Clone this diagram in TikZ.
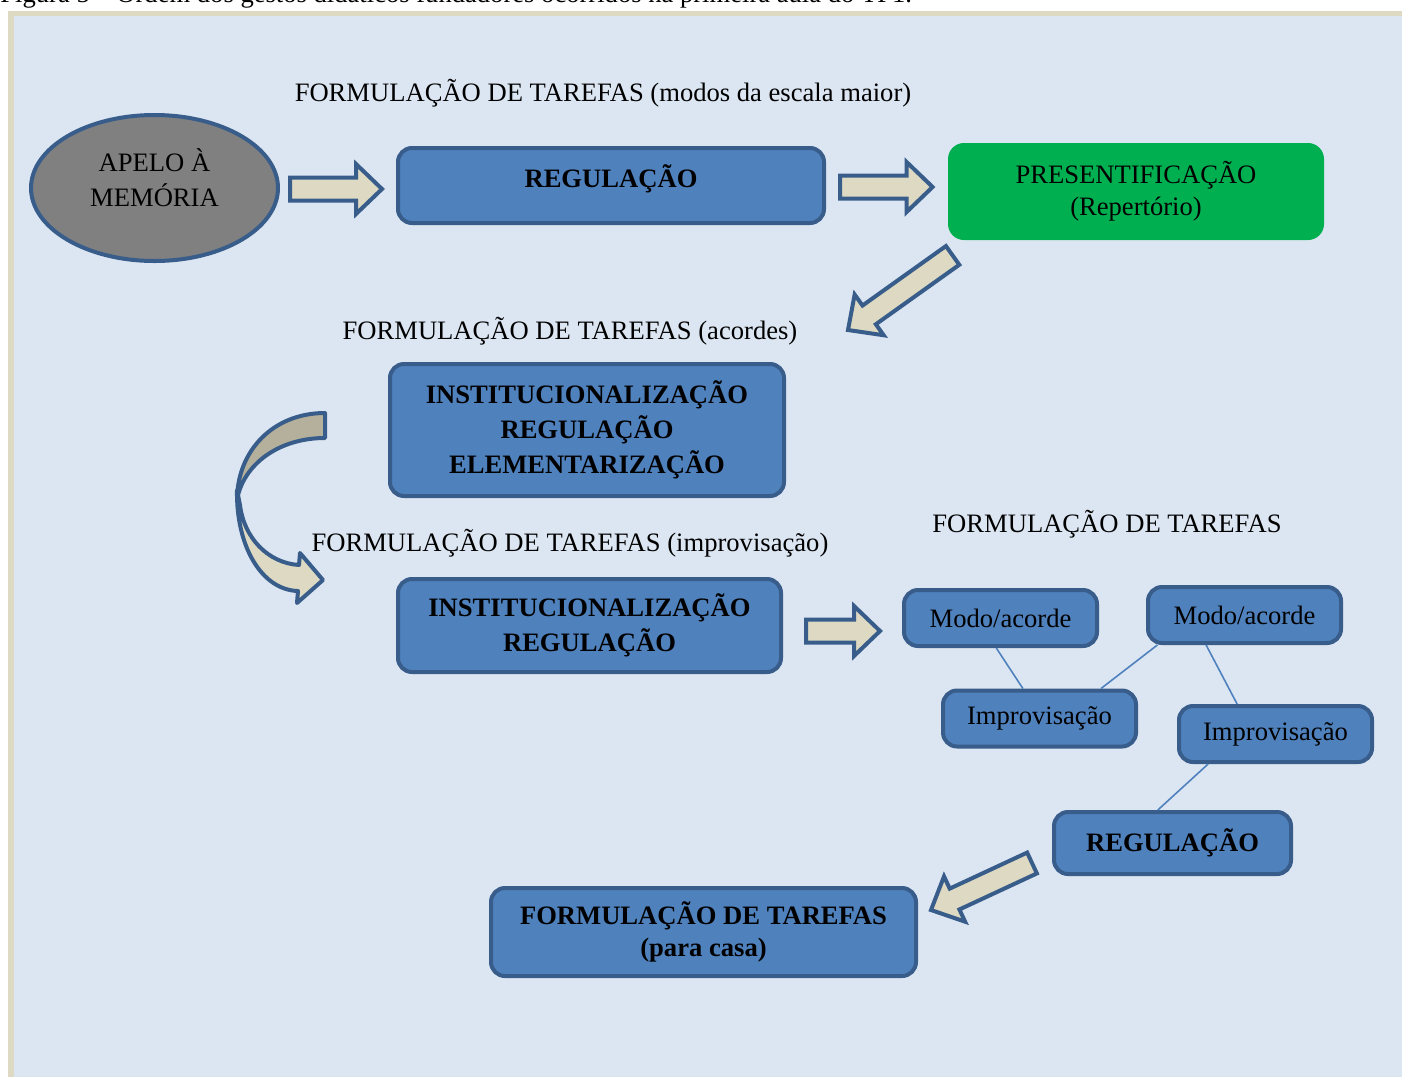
\documentclass[tikz,border=0pt]{standalone}
\usepackage{fontspec}
\setmainfont{Liberation Serif}
\usetikzlibrary{calc,shapes.geometric}

\definecolor{panel}{HTML}{DCE6F2}
\definecolor{frame}{HTML}{DDD9C3}
\definecolor{boxfill}{HTML}{4F81BD}
\definecolor{boxline}{HTML}{385D8A}
\definecolor{greenbox}{HTML}{00B050}
\definecolor{darktan}{HTML}{B4B09C}

% block arrow from tail #1 to tip #2
\newcommand{\fatarrow}[2]{%
  \coordinate (fa-h) at ($(#2)!13pt!(#1)$);
  \draw[fatarrow] ($(#1)!5.75pt!90:(#2)$) -- ($(fa-h)!5.75pt!-90:(#1)$)
    -- ($(fa-h)!12.5pt!-90:(#1)$) -- (#2) -- ($(fa-h)!12.5pt!90:(#1)$)
    -- ($(fa-h)!5.75pt!90:(#1)$) -- ($(#1)!5.75pt!-90:(#2)$) -- cycle;
}

\begin{document}
\begin{tikzpicture}[x=0.5pt, y=-0.5pt,
  every node/.style={font=\fontsize{13.3}{16}\selectfont},
  box/.style={draw=boxline, line width=2pt, fill=boxfill, rounded corners=7pt,
    align=center, inner sep=0pt},
  boldbox/.style={box, font=\fontsize{13.3}{17.5}\selectfont\bfseries},
  tasklabel/.style={inner sep=0pt},
  fatarrow/.style={draw=boxline, line width=2pt, fill=frame, line join=miter},
  link/.style={draw=boxfill, line width=0.8pt}]
\useasboundingbox (0,0) rectangle (1402,1077);
\clip (0,0) rectangle (1402,1077);
\fill[white] (0,0) rectangle (1402,1077);
\fill[frame] (8,11) rectangle (1402,1077);
\fill[panel] (14,16) rectangle (1402,1077);

\node[tasklabel, anchor=base west] (caption) at (0,2)
  {Figura 5 -- Ordem dos gestos didáticos fundadores ocorridos na primeira aula do TP1.};

% first row
\node[ellipse, draw=boxline, line width=2pt, fill=gray, inner sep=0pt,
  minimum width=123.5pt, minimum height=73pt, align=center, text depth=10pt,
  font=\fontsize{13.3}{17.5}\selectfont] (apelo) at (154.5,188) {APELO À\\MEMÓRIA};
\node[boldbox, minimum width=213pt, minimum height=37.5pt, text depth=9pt]
  (reg1) at (611,185.5) {REGULAÇÃO};
\node[fill=greenbox, rounded corners=8pt, minimum width=188pt, minimum height=48.5pt,
  align=center] (pres) at (1136,191.5) {PRESENTIFICAÇÃO\\(Repertório)};
\node[tasklabel] (lab1) at (603,93) {FORMULAÇÃO DE TAREFAS (modos da escala maior)};

% middle
\node[tasklabel] (lab2) at (570,331) {FORMULAÇÃO DE TAREFAS (acordes)};
\node[boldbox, minimum width=197pt, minimum height=66pt] (inst1) at (587,430)
  {INSTITUCIONALIZAÇÃO\\REGULAÇÃO\\ELEMENTARIZAÇÃO};
\node[tasklabel] (lab3) at (570,543) {FORMULAÇÃO DE TAREFAS (improvisação)};
\node[boldbox, minimum width=191.5pt, minimum height=46.5pt] (inst2) at (589.5,625.5)
  {INSTITUCIONALIZAÇÃO\\REGULAÇÃO};

% improvisation tasks
\node[tasklabel] (lab4) at (1107,524) {FORMULAÇÃO DE TAREFAS};
\node[box, minimum width=96.5pt, minimum height=28pt] (modo1) at (1000.5,618) {Modo/acorde};
\node[box, minimum width=96.5pt, minimum height=28pt] (modo2) at (1244.5,615) {Modo/acorde};
\node[box, minimum width=96.5pt, minimum height=28pt] (impro1) at (1039.5,718.5) {Improvisação};
\node[box, minimum width=96.5pt, minimum height=28pt] (impro2) at (1275.5,734) {Improvisação};
\node[boldbox, minimum width=118.5pt, minimum height=31pt] (reg2) at (1172.5,843) {REGULAÇÃO};
\node[boldbox, minimum width=212.5pt, minimum height=44pt,
  font=\fontsize{13.3}{16}\selectfont\bfseries] (casa) at (703.5,932)
  {FORMULAÇÃO DE TAREFAS\\(para casa)};

\draw[link] (modo1.262) -- (impro1.119);
\draw[link] (modo2.199) -- (impro1.26);
\draw[link] (modo2.218) -- (impro2.142);
\draw[link] (impro2.204) -- (reg2.114);

% block arrows
\coordinate (a1s) at ($(apelo.east)+(10,1)$);
\coordinate (a1e) at ($(reg1.west)+(-14,3.5)$);
\coordinate (a2s) at ($(reg1.east)+(14,1.5)$);
\coordinate (a2e) at ($(pres.west)+(-15,-4.5)$);
\coordinate (a3s) at ($(pres.south west)+(5,15)$);
\coordinate (a3e) at ($(inst1.north east)+(62,-32)$);
\coordinate (a4s) at ($(inst2.east)+(23,5.5)$);
\coordinate (a4e) at ($(modo1.west)+(-22,13)$);
\coordinate (a5s) at ($(reg2.west)+(-20,20)$);
\coordinate (a5e) at ($(casa.east)+(13,-22)$);
\fatarrow{a1s}{a1e}
\fatarrow{a2s}{a2e}
\fatarrow{a3s}{a3e}
\fatarrow{a4s}{a4e}
\fatarrow{a5s}{a5e}

% curved arrow
\draw[fatarrow, fill=darktan, line join=round] (325,413) .. controls (272,413) and (237,452) .. (237,500)
  .. controls (243,465) and (278,438) .. (325,438) -- cycle;
\draw[fatarrow, line join=round] (237,490) .. controls (236,547) and (262,590) .. (298,591)
  -- (297,603) -- (323,580) -- (300,553) -- (299,565)
  .. controls (268,563) and (244,538) .. (240,505) -- cycle;
\end{tikzpicture}
\end{document}
